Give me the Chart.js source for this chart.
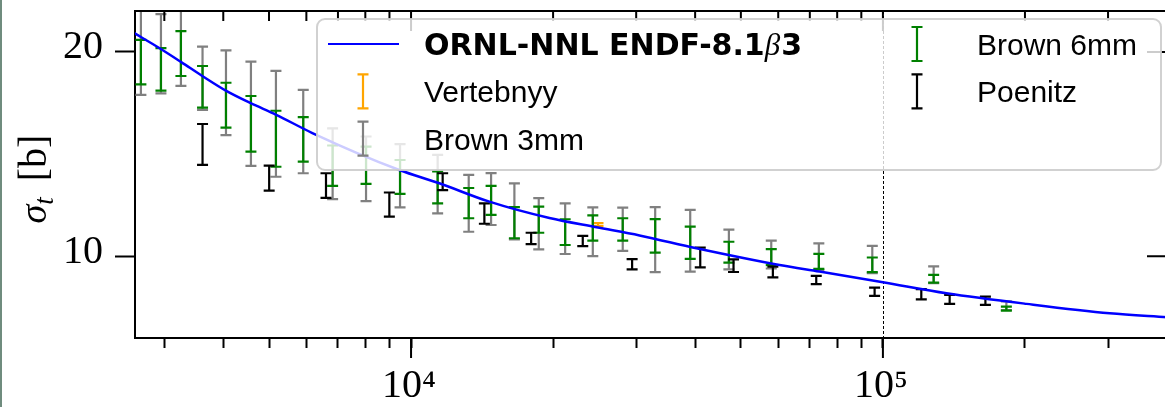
<!DOCTYPE html>
<html lang="en">
<head>
<meta charset="UTF-8">
<title>Total cross section</title>
<script src="https://cdn.jsdelivr.net/npm/chart.js"></script>
<style>
  html, body { margin: 0; padding: 0; background: #fff; overflow: hidden; }
  body { width: 1165px; height: 407px; position: relative; }
  .grafico { position: absolute; left: 0; top: 0; width: 1180px; height: 407px; }
  .borda { position: absolute; left: 0; top: 0; width: 2px; height: 407px; background: #6f8c7e; }
</style>
</head>
<body>

<div class="grafico"><canvas id="sigmaTotal" width="1180" height="407"></canvas></div>
<div class="borda"></div>

<script>
// curva avaliada (ORNL-NNL)
const modeloE = [2590, 2926, 3258, 3610, 4059, 4563, 5181, 6178, 9445, 11482, 14655, 19646, 24713, 30492, 40262, 60390, 73390, 100000, 136400, 201600, 302400, 400000];
const modeloSigma = [20.92, 20.19, 19.50, 18.82, 18.09, 17.50, 16.92, 16.03, 14.22, 13.57, 12.67, 11.87, 11.42, 11.02, 10.39, 9.57, 9.25, 8.73, 8.19, 7.67, 7.21, 7.02];

// medidas (centro e meia barra de erro)
const vertebnyyE = [24900];
const vertebnyySigma = [11.55];
const vertebnyyErro = [0.07];

const brownE = [2676, 2951, 3253, 3615, 4053, 4578, 5172, 5909, 6820, 8028, 9477, 11386, 13250, 14778, 16558, 18648, 21213, 24276, 28094, 32915, 39050, 47159, 57995, 73150, 94950, 128100, 182650];
const brown3Sigma = [20.45, 19.91, 20.47, 18.71, 18.00, 16.97, 16.48, 16.10, 14.53, 14.28, 13.94, 13.53, 12.59, 12.80, 12.20, 11.59, 11.35, 11.20, 11.32, 10.81, 10.76, 10.33, 10.08, 9.98, 9.84, 9.09, 7.58];
const brown3Erro = [2.55, 1.94, 2.13, 1.55, 2.07, 2.55, 2.59, 2.04, 1.73, 1.58, 1.55, 1.43, 1.39, 1.27, 1.37, 1.25, 1.24, 1.19, 1.06, 1.59, 1.51, 0.97, 0.68, 0.65, 0.67, 0.41, 0.21];
const brown6Sigma = [19.50, 19.14, 19.92, 18.29, 17.39, 16.48, 15.75, 15.72, 14.43, 14.45, 13.88, 13.37, 12.60, 12.73, 11.64, 11.79, 11.18, 11.38, 11.31, 11.00, 10.66, 10.20, 9.96, 9.75, 9.58, 8.90, 7.44];
const brown6Erro = [1.09, 1.04, 1.10, 1.02, 1.10, 1.36, 1.37, 1.09, 0.99, 0.91, 0.83, 0.78, 0.74, 0.71, 0.76, 0.64, 0.63, 0.62, 0.55, 0.82, 0.79, 0.51, 0.39, 0.37, 0.36, 0.19, 0.10];

const poenitzE = [3615, 5004, 6603, 8995, 11668, 14302, 17967, 23115, 29410, 41010, 48240, 58450, 72230, 96030, 120600, 138500, 164900];
const poenitzSigma = [15.47, 13.82, 13.46, 12.53, 13.65, 12.09, 10.87, 10.75, 9.61, 9.94, 9.54, 9.23, 8.84, 8.26, 8.14, 7.89, 7.82];
const poenitzErro = [1.00, 0.61, 0.60, 0.59, 0.41, 0.50, 0.28, 0.25, 0.25, 0.48, 0.31, 0.26, 0.20, 0.20, 0.25, 0.22, 0.20];

// eixos
const marcasX = [3000, 4000, 5000, 6000, 7000, 8000, 9000, 10000, 20000, 30000, 40000, 50000, 60000, 70000, 80000, 90000, 100000, 200000, 300000, 400000];
const marcasY = [10, 20];
const linhaVertical = 100000;

function pontos(es, ss) {
    return es.map((e, i) => ({ x: e, y: ss[i] }));
}

const sup = { '4': '⁴', '5': '⁵', '3': '³', '6': '⁶' };

// barras de erro, desenhadas antes da curva
const barrasErro = {
    id: 'barrasErro',
    beforeDatasetsDraw(chart) {
        const { ctx, chartArea: a, scales: { x, y } } = chart;
        ctx.save();
        ctx.beginPath();
        ctx.rect(a.left, a.top, a.right - a.left, a.bottom - a.top);
        ctx.clip();

        const xl = Math.round(x.getPixelForValue(linhaVertical)) + 0.5;
        ctx.setLineDash([3, 2]);
        ctx.lineWidth = 1;
        ctx.strokeStyle = '#000';
        ctx.beginPath();
        ctx.moveTo(xl, a.top);
        ctx.lineTo(xl, a.bottom);
        ctx.stroke();
        ctx.setLineDash([]);

        chart.data.datasets.forEach(ds => {
            if (!ds.erro) return;
            ctx.strokeStyle = ds.borderColor;
            ctx.lineWidth = 2.2;
            ds.data.forEach((p, i) => {
                const px = x.getPixelForValue(p.x);
                const y1 = y.getPixelForValue(p.y - ds.erro[i]);
                const y2 = y.getPixelForValue(p.y + ds.erro[i]);
                ctx.beginPath();
                ctx.moveTo(px, y1); ctx.lineTo(px, y2);
                ctx.moveTo(px - 5.5, y1); ctx.lineTo(px + 5.5, y1);
                ctx.moveTo(px - 5.5, y2); ctx.lineTo(px + 5.5, y2);
                ctx.stroke();
            });
        });
        ctx.restore();
    }
};

function escreverRotulo(ctx, texto, x, y, negrito) {
    ctx.fillStyle = '#000';
    ctx.textBaseline = 'alphabetic';
    ctx.textAlign = 'left';
    if (!negrito) {
        ctx.font = '30px "Liberation Sans"';
        ctx.fillText(texto, x, y);
        return;
    }
    const partes = texto.split('β');
    ctx.font = 'bold 30px "DejaVu Sans"';
    ctx.fillText(partes[0], x, y);
    x += ctx.measureText(partes[0]).width;
    ctx.font = 'italic 31px "Liberation Serif"';
    ctx.fillText('β', x, y);
    x += ctx.measureText('β').width + 1;
    ctx.font = 'bold 30px "DejaVu Sans"';
    ctx.fillText(partes[1], x, y);
}

// moldura, marcas internas, legenda e título do eixo y
const moldura = {
    id: 'moldura',
    afterDraw(chart) {
        const { ctx, chartArea: a, scales: { x, y } } = chart;
        ctx.save();
        ctx.strokeStyle = '#000';
        ctx.lineWidth = 2;
        ctx.beginPath();
        ctx.moveTo(a.left - 1, a.top); ctx.lineTo(a.right + 1, a.top);
        x.ticks.forEach(t => {
            const px = x.getPixelForValue(t.value);
            const tam = t.major ? 20 : 10;
            ctx.moveTo(px, a.top); ctx.lineTo(px, a.top + tam);
            if (t.major) { ctx.moveTo(px, a.bottom); ctx.lineTo(px, a.bottom + 20); }
        });
        y.ticks.forEach(t => {
            const py = y.getPixelForValue(t.value);
            ctx.moveTo(a.right - 20, py); ctx.lineTo(a.right, py);
        });
        ctx.stroke();

        // título do eixo y
        ctx.save();
        ctx.translate(46, 179);
        ctx.rotate(-Math.PI / 2);
        ctx.fillStyle = '#000';
        ctx.textBaseline = 'alphabetic';
        ctx.font = 'italic 38px "Liberation Serif"';
        const wS = ctx.measureText('σ').width;
        ctx.font = 'italic 27px "Liberation Serif"';
        const wT = ctx.measureText('t').width;
        ctx.font = '40px "Liberation Serif"';
        const wU = ctx.measureText('[b]').width;
        const gap = 16;
        let x0 = -(wS + wT + gap + wU) / 2;
        ctx.font = 'italic 38px "Liberation Serif"';
        ctx.fillText('σ', x0, 0);
        ctx.font = 'italic 27px "Liberation Serif"';
        ctx.fillText('t', x0 + wS, 7);
        ctx.font = '40px "Liberation Serif"';
        ctx.fillText('[b]', x0 + wS + wT + gap, 0);
        ctx.restore();

        // legenda
        ctx.beginPath();
        ctx.roundRect(317, 19, 844, 151, 8);
        ctx.fillStyle = 'rgba(255,255,255,0.8)';
        ctx.fill();
        ctx.lineWidth = 2;
        ctx.strokeStyle = 'rgba(204,204,204,0.9)';
        ctx.stroke();

        const colunas = [{ icone: 363, texto: 424 }, { icone: 917, texto: 977 }];
        const linhas = [44, 91.3, 138.6];
        chart.data.datasets.forEach((d, i) => {
            const col = colunas[i < 3 ? 0 : 1];
            const yc = linhas[i < 3 ? i : i - 3];
            ctx.strokeStyle = d.borderColor;
            ctx.lineWidth = 2.2;
            ctx.beginPath();
            if (d.erro) {
                ctx.moveTo(col.icone, yc - 17); ctx.lineTo(col.icone, yc + 17);
                ctx.moveTo(col.icone - 5.5, yc - 17); ctx.lineTo(col.icone + 5.5, yc - 17);
                ctx.moveTo(col.icone - 5.5, yc + 17); ctx.lineTo(col.icone + 5.5, yc + 17);
            } else {
                ctx.moveTo(328, yc); ctx.lineTo(399, yc);
            }
            ctx.stroke();
            escreverRotulo(ctx, d.label, col.texto, yc + 11, i === 0);
        });
        ctx.restore();
    }
};

const fonteSerif = { family: '"Liberation Serif"', size: 40 };

new Chart(document.getElementById('sigmaTotal'), {
    type: 'scatter',
    data: {
        datasets: [
            {
                label: 'ORNL-NNL ENDF-8.1β3',
                data: pontos(modeloE, modeloSigma),
                showLine: true,
                borderColor: '#0000ff',
                borderWidth: 2.5,
                pointRadius: 0,
                cubicInterpolationMode: 'monotone'
            },
            { label: 'Vertebnyy', data: pontos(vertebnyyE, vertebnyySigma), erro: vertebnyyErro, borderColor: '#ffa500', pointRadius: 0 },
            { label: 'Brown 3mm', data: pontos(brownE, brown3Sigma), erro: brown3Erro, borderColor: '#808080', pointRadius: 0 },
            { label: 'Brown 6mm', data: pontos(brownE, brown6Sigma), erro: brown6Erro, borderColor: '#008000', pointRadius: 0 },
            { label: 'Poenitz', data: pontos(poenitzE, poenitzSigma), erro: poenitzErro, borderColor: '#000000', pointRadius: 0 }
        ]
    },
    options: {
        responsive: false,
        animation: false,
        layout: { padding: { left: 0, right: 13, top: 11, bottom: 0 } },
        plugins: { legend: { display: false }, tooltip: { enabled: false } },
        scales: {
            x: {
                type: 'logarithmic',
                min: 2600,
                max: 400000,
                afterBuildTicks: s => { s.ticks = marcasX.map(v => ({ value: v, major: Number.isInteger(Math.log10(v)) })); },
                afterFit: s => { s.height = 69; s.paddingLeft = 0; s.paddingRight = 0; },
                grid: { drawOnChartArea: false, tickLength: 10, tickWidth: 2, tickColor: '#000' },
                border: { color: '#000', width: 2 },
                ticks: {
                    autoSkip: false,
                    maxRotation: 0,
                    padding: 14,
                    labelOffset: -2,
                    color: '#000',
                    font: fonteSerif,
                    callback: v => {
                        const p = Math.log10(v);
                        return Number.isInteger(p) ? '10' + sup[String(p)] : '';
                    }
                }
            },
            y: {
                min: 6,
                max: 22,
                afterBuildTicks: s => { s.ticks = marcasY.map(v => ({ value: v })); },
                afterFit: s => { s.width = 135; s.paddingTop = 0; s.paddingBottom = 0; },
                grid: { drawOnChartArea: false, tickLength: 20, tickWidth: 2, tickColor: '#000' },
                border: { color: '#000', width: 2 },
                ticks: { padding: 12, labelOffset: -4, color: '#000', font: fonteSerif }
            }
        }
    },
    plugins: [barrasErro, moldura]
});
</script>
</body>
</html>
